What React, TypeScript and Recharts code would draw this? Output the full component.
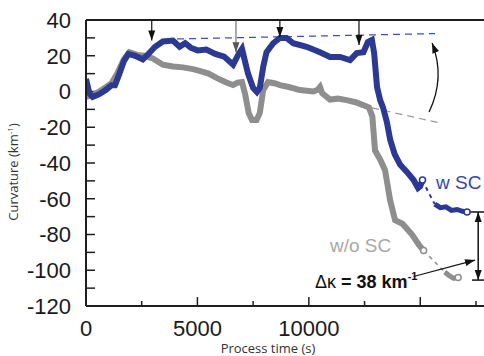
import React from "react";
import { LineChart, Line, XAxis, YAxis, ReferenceLine, ReferenceDot, Label } from "recharts";

// w SC (with shape control) – main run, sparse gap, end cluster
const wScTime = [0, 150, 300, 600, 900, 1150, 1300, 1500, 1700, 1900, 2200, 2550, 2800, 3100, 3450, 3900, 4200, 4450, 4700, 5000, 5400, 5800, 6200, 6600, 6850, 7000, 7270, 7500, 7670, 7800, 7950, 8100, 8400, 8700, 9000, 9300, 9900, 10500, 10950, 11400, 11850, 12150, 12450, 12650, 12830, 12930, 13060, 13200, 13330, 13500, 13650, 13850, 14100, 14400, 14700, 14900, 15000, 15100];
const wScCurv = [7, -1, -3, -1.5, 1, 3.5, 3.5, 10, 17, 21, 20, 18, 21, 25, 28, 28.5, 25, 27, 24.5, 23, 23.5, 21, 19.5, 15, 21, 23.8, 10, 2, -0.3, 2, 13.7, 22, 27, 30, 30, 27, 25, 22, 19.3, 19.3, 17.6, 21.5, 22, 27.7, 28.8, 21.5, 2.5, -4.8, -9, -17, -27, -35, -41, -45, -49.5, -54, -53, -49.5];
const wScGapTime = [15100, 15350, 15650];
const wScGapCurv = [-49.5, -56, -63];
const wScEndTime = [15650, 15900, 16150, 16400, 16650, 16900, 17100];
const wScEndCurv = [-63, -65, -64.5, -66.5, -66, -67, -67.4];

// w/o SC
const woScTime = [0, 300, 600, 900, 1150, 1400, 1700, 1950, 2300, 2600, 3000, 3450, 3900, 4350, 4800, 5100, 5500, 5880, 6300, 6600, 6800, 7000, 7150, 7300, 7450, 7650, 7800, 7950, 8170, 8500, 8700, 9100, 9600, 10200, 10400, 10500, 10600, 10950, 11300, 11700, 12100, 12430, 12700, 12850, 12970, 13200, 13420, 13650, 13870, 14200, 14630, 14950, 15150];
const woScCurv = [-3, -2, 0, 2.5, 4.7, 10, 18, 22, 20.5, 20, 18.5, 15, 14, 13.5, 12.5, 11.5, 10, 7.5, 5, 3.6, 5, 5.3, -2, -12, -16, -16, -12, 0.8, 5.3, 4.5, 3.6, 2.5, 0.8, 0, 1, 2.5, -1, -4.5, -4, -4.8, -6, -7.6, -9, -14, -33, -38, -44, -61, -72, -74, -80, -86, -89];
const woScGapTime = [15150, 16100];
const woScGapCurv = [-89, -101];
const woScEndTime = [16100, 16300, 16500, 16700];
const woScEndCurv = [-101, -103, -104.5, -104];

const xTicks = [0, 2500, 5000, 7500, 10000, 12500, 15000, 17500];
const yTicks = [-120, -110, -100, -90, -80, -70, -60, -50, -40, -30, -20, -10, 0, 10, 20, 30, 40];

const BLUE = "#2b3894";
const GREY = "#8e8e8e";
const AXIS = "#1e1e1e";
const TICK_FONT = "'Liberation Sans', Arial, sans-serif";

const toRows = (t: number[], v: number[]) => t.map((x, i) => ({ t: x, v: v[i] }));

const wScMain = toRows(wScTime, wScCurv);
const wScGap = toRows(wScGapTime, wScGapCurv);
const wScEnd = toRows(wScEndTime, wScEndCurv);
const woScMain = toRows(woScTime, woScCurv);
const woScGap = toRows(woScGapTime, woScGapCurv);
const woScEnd = toRows(woScEndTime, woScEndCurv);

function XTick(props: any) {
  const { x, y, payload } = props;
  if (payload.value % 5000 !== 0) return <g />;
  return (
    <text x={x} y={y + 30} textAnchor="middle" fontSize={22} fontFamily={TICK_FONT} fill="#1a1a1a">
      {payload.value}
    </text>
  );
}

function YTick(props: any) {
  const { x, y, payload } = props;
  if (payload.value % 20 !== 0) return <g />;
  return (
    <text x={x - 15} y={y} dy="0.36em" textAnchor="end" fontSize={22} fontFamily={TICK_FONT} fill="#1a1a1a">
      {payload.value}
    </text>
  );
}

function head(tx: number, ty: number, fx: number, fy: number, color: string) {
  const a = Math.atan2(ty - fy, tx - fx);
  const len = 10;
  const w = 3.5;
  const bx = tx - len * Math.cos(a);
  const by = ty - len * Math.sin(a);
  const px = -Math.sin(a) * w;
  const py = Math.cos(a) * w;
  return <polygon points={`${tx},${ty} ${bx + px},${by + py} ${bx - px},${by - py}`} fill={color} />;
}

const arrow = (color: string, width: number, both = false) => (p: any) => {
  const { x1, y1, x2, y2 } = p;
  return (
    <g>
      <line x1={x1} y1={y1} x2={x2} y2={y2} stroke={color} strokeWidth={width} />
      {head(x2, y2, x1, y1, color)}
      {both && head(x1, y1, x2, y2, color)}
    </g>
  );
};

const curvedArrow = (p: any) => {
  const { x1, y1, x2, y2 } = p;
  const cx = (x1 + x2) / 2 + 15;
  const cy = (y1 + y2) / 2;
  return (
    <g>
      <path d={`M${x1},${y1} Q${cx},${cy} ${x2},${y2}`} fill="none" stroke="#111" strokeWidth={1.3} />
      {head(x2, y2, cx, cy, "#111")}
    </g>
  );
};

const endCircle = (color: string, last: number) => (p: any) => {
  if (p.index !== last) return <g key={p.index} />;
  return <circle key={p.index} cx={p.cx} cy={p.cy} r={3} fill="#fff" stroke={color} strokeWidth={1.5} />;
};

const textAt = (content: React.ReactNode, color: string, size: number, weight = "normal") => (p: any) => (
  <text x={p.cx} y={p.cy} fill={color} fontSize={size} fontWeight={weight} fontFamily={TICK_FONT}>
    {content}
  </text>
);

export default function App() {
  return (
    <div style={{ position: "absolute", left: 0, top: 0, width: 484, height: 356, background: "#fff" }}>
      <LineChart width={484} height={356} margin={{ top: 20, right: 0, left: 0, bottom: 0 }}>
        <XAxis
          dataKey="t"
          type="number"
          domain={[0, 17860]}
          ticks={xTicks}
          tick={<XTick />}
          tickSize={0}
          tickMargin={0}
          tickLine={false}
          height={50}
          axisLine={{ stroke: AXIS, strokeWidth: 2 }}
          allowDataOverflow
        >
          <Label
            content={() => (
              <text x={268} y={353} textAnchor="middle" fontSize={13} fontFamily="'Open Sans', sans-serif" fill="#333">
                Process time (s)
              </text>
            )}
          />
        </XAxis>
        <YAxis
          type="number"
          domain={[-120, 40]}
          ticks={yTicks}
          tick={<YTick />}
          tickSize={0}
          tickMargin={0}
          tickLine={false}
          width={86}
          axisLine={{ stroke: AXIS, strokeWidth: 2 }}
          allowDataOverflow
        >
          <Label
            content={() => (
              <text
                transform="translate(18,172) rotate(-90)"
                textAnchor="middle"
                fontSize={13}
                fontFamily="'Open Sans', sans-serif"
                fill="#333"
              >
                Curvature (km<tspan dy={-5} fontSize={8}>-1</tspan>
                <tspan dy={5}>)</tspan>
              </text>
            )}
          />
        </YAxis>

        <ReferenceLine y={40} stroke={AXIS} strokeWidth={2} />

        {/* inward tick marks */}
        {yTicks.map((v) => (
          <ReferenceLine key={`yt${v}`} segment={[{ x: 0, y: v }, { x: 404, y: v }]} stroke={AXIS} strokeWidth={1.5} />
        ))}
        {xTicks.map((t) => (
          <ReferenceLine
            key={`xt${t}`}
            segment={[{ x: t, y: -120 }, { x: t, y: t % 5000 === 0 ? -115 : -117.2 }]}
            stroke={AXIS}
            strokeWidth={1.5}
          />
        ))}

        <ReferenceLine segment={[{ x: 4084, y: 29.4 }, { x: 15664, y: 32.4 }]} stroke="#3d50b4" strokeWidth={1.2} strokeDasharray="7 5" />
        <ReferenceLine segment={[{ x: 12836, y: -9.2 }, { x: 15890, y: -17.6 }]} stroke="#999" strokeWidth={1.2} strokeDasharray="7 5" />

        <Line data={woScMain} dataKey="v" stroke={GREY} strokeWidth={6} dot={endCircle(GREY, woScMain.length - 1)} isAnimationActive={false} />
        <Line data={woScGap} dataKey="v" stroke={GREY} strokeWidth={1.5} strokeDasharray="4 4" dot={false} isAnimationActive={false} />
        <Line data={woScEnd} dataKey="v" stroke={GREY} strokeWidth={5} dot={endCircle(GREY, woScEnd.length - 1)} isAnimationActive={false} />

        <Line data={wScMain} dataKey="v" stroke={BLUE} strokeWidth={6} dot={endCircle(BLUE, wScMain.length - 1)} isAnimationActive={false} />
        <Line data={wScGap} dataKey="v" stroke={BLUE} strokeWidth={2} strokeDasharray="4 4" dot={false} isAnimationActive={false} />
        <Line data={wScEnd} dataKey="v" stroke={BLUE} strokeWidth={5} dot={endCircle(BLUE, wScEnd.length - 1)} isAnimationActive={false} />

        <ReferenceLine segment={[{ x: 2950, y: 40 }, { x: 2950, y: 28.6 }]} shape={arrow("#111", 1.2)} />
        <ReferenceLine segment={[{ x: 6730, y: 40 }, { x: 6730, y: 22 }]} shape={arrow("#555", 1)} />
        <ReferenceLine segment={[{ x: 8700, y: 40 }, { x: 8700, y: 30.5 }]} shape={arrow("#111", 1.2)} />
        <ReferenceLine segment={[{ x: 12250, y: 40 }, { x: 12250, y: 26 }]} shape={arrow("#111", 1.2)} />

        <ReferenceLine segment={[{ x: 15395, y: -11.5 }, { x: 15530, y: 27.1 }]} shape={curvedArrow} />

        <ReferenceLine segment={[{ x: 17600, y: -105.5 }, { x: 17600, y: -67.4 }]} shape={arrow("#111", 1.5, true)} />
        <ReferenceLine segment={[{ x: 17230, y: -67.4 }, { x: 17860, y: -67.4 }]} stroke="#111" strokeWidth={1.5} />
        <ReferenceLine segment={[{ x: 17320, y: -105.5 }, { x: 17860, y: -105.5 }]} stroke="#111" strokeWidth={1.5} />
        <ReferenceLine segment={[{ x: 14700, y: -103.5 }, { x: 17460, y: -94.3 }]} shape={arrow("#111", 1.2)} />

        <ReferenceDot x={15709} y={-54.5} r={0} shape={textAt("w SC", "#3447a8", 19)} />
        <ReferenceDot x={10950} y={-90} r={0} shape={textAt("w/o SC", "#a8a8a8", 19)} />
        <ReferenceDot
          x={10278}
          y={-110}
          r={0}
          shape={textAt(
            <>
              <tspan fontWeight="normal">Δκ</tspan>
              <tspan> = 38 km</tspan>
              <tspan dy={-8} fontSize={11}>-1</tspan>
            </>,
            "#111",
            18,
            "bold"
          )}
        />
      </LineChart>
    </div>
  );
}
